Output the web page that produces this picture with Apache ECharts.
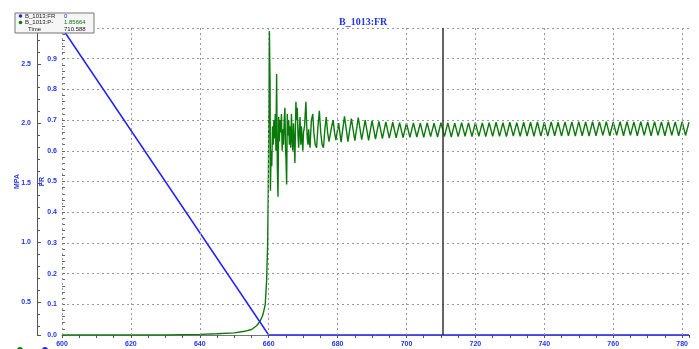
<!DOCTYPE html>
<html>
<head>
<meta charset="utf-8">
<script src="https://cdn.jsdelivr.net/npm/echarts@6/dist/echarts.min.js"></script>
<style>
  html, body { margin: 0; padding: 0; background: #fff; }
  #chart { width: 699px; height: 349px; }
</style>
</head>
<body>
<div id="chart"></div>
<script>
// blue trace (B_1013:FR), time / value
var blueT = [600, 660, 782];
var blueV = [1.0, 0.0, 0.0];

// green trace (B_1013:P-), time / value
var greenT = [
  600, 630, 640, 645, 650, 653, 655, 656.5, 657.5, 658.3, 659, 659.4, 659.7, 659.9, 660.1, 660.2,
  660.4, 660.5, 660.7, 660.9, 661.1, 661.3, 661.5, 661.7, 661.9, 662.1, 662.3, 662.5, 662.7, 662.9,
  663.1, 663.3, 663.5, 663.7, 663.9, 664.1, 664.3, 664.5, 664.7, 664.9, 665.0, 665.2, 665.4, 665.6,
  665.8, 666.0, 666.2, 666.4, 666.6, 666.8, 667.0, 667.2, 667.4, 667.6, 667.9, 668.1, 668.3, 668.5,
  668.7, 668.9, 669.1, 669.3, 669.5, 669.7, 669.9, 670.1, 670.4, 670.8, 671.0, 671.2, 671.4, 671.6,
  671.8, 672.0, 672.2, 672.4, 672.8, 673.1, 673.5, 673.9, 674.3, 674.7, 675.1, 675.5, 675.9, 676.3,
  676.7, 677.1, 677.5, 677.9, 678.3, 678.7, 679.1, 679.5, 679.9, 680.3,
  681, 682, 683, 684, 685, 686, 687, 688, 689, 690, 691, 692, 693, 694, 695, 696, 697, 698, 699, 700,
  701, 702, 703, 704, 705, 706, 707, 708, 709, 710, 711, 712, 713, 714, 715, 716, 717, 718, 719, 720,
  721, 722, 723, 724, 725, 726, 727, 728, 729, 730, 731, 732, 733, 734, 735, 736, 737, 738, 739, 740,
  741, 742, 743, 744, 745, 746, 747, 748, 749, 750, 751, 752, 753, 754, 755, 756, 757, 758, 759, 760,
  761, 762, 763, 764, 765, 766, 767, 768, 769, 770, 771, 772, 773, 774, 775, 776, 777, 778, 779, 780,
  781, 782
];
var greenV = [
  0, 0, 0.002, 0.004, 0.007, 0.012, 0.018, 0.03, 0.045, 0.065, 0.1, 0.18, 0.3, 0.5, 0.8, 0.99,
  0.82, 0.47, 0.60, 0.55, 0.68, 0.62, 0.70, 0.64, 0.72, 0.60, 0.85, 0.55, 0.45, 0.71,
  0.63, 0.70, 0.66, 0.72, 0.60, 0.67, 0.62, 0.70, 0.74, 0.60, 0.58, 0.49, 0.72, 0.65,
  0.70, 0.62, 0.68, 0.61, 0.72, 0.64, 0.60, 0.69, 0.63, 0.56, 0.76, 0.70, 0.74, 0.65,
  0.61, 0.67, 0.71, 0.62, 0.68, 0.64, 0.60, 0.66, 0.68, 0.76, 0.69, 0.64, 0.62, 0.67,
  0.63, 0.61, 0.66, 0.70, 0.72, 0.66, 0.62, 0.61, 0.68, 0.73, 0.66, 0.62, 0.61, 0.67,
  0.71, 0.66, 0.63, 0.625, 0.68, 0.70, 0.66, 0.635, 0.64, 0.69,
  0.628, 0.712, 0.630, 0.705, 0.633, 0.708, 0.636, 0.700, 0.634, 0.698, 0.638, 0.696, 0.640, 0.694, 0.641, 0.693, 0.642, 0.692, 0.643, 0.690,
  0.644, 0.691, 0.645, 0.690, 0.644, 0.691, 0.646, 0.690, 0.645, 0.692, 0.646, 0.691, 0.645, 0.690, 0.646, 0.692, 0.647, 0.691, 0.646, 0.692,
  0.647, 0.691, 0.646, 0.692, 0.647, 0.693, 0.647, 0.692, 0.646, 0.693, 0.648, 0.692, 0.647, 0.693, 0.648, 0.693, 0.647, 0.694, 0.648, 0.693,
  0.648, 0.694, 0.649, 0.693, 0.648, 0.694, 0.649, 0.694, 0.648, 0.695, 0.649, 0.694, 0.648, 0.695, 0.649, 0.694, 0.650, 0.695, 0.649, 0.694,
  0.650, 0.695, 0.649, 0.695, 0.650, 0.694, 0.649, 0.695, 0.650, 0.694, 0.649, 0.695, 0.650, 0.694, 0.649, 0.695, 0.650, 0.694, 0.649, 0.695,
  0.650, 0.693
];

// vertical grid positions (x tick values, left edge included)
var xGridTicks = [600, 620, 640, 660, 680, 700, 720, 740, 760, 780];

// cursor readout
var cursorTime = 710.588;
var legendNames = ["B_1013:FR", "B_1013:P-", "Time"];
var legendValues = ["0", "1.85664", "710.588"];

var BLUE = "#1f35ee";
var GREEN = "#0b7a0b";
var labelFont = { color: BLUE, fontSize: 7, fontWeight: "bold", fontFamily: "Liberation Sans" };
var gridDash = { color: "#999", type: [2, 3], width: 1 };

function pairs(t, v) {
  var out = [];
  for (var i = 0; i < t.length; i++) out.push([t[i], v[i]]);
  return out;
}

var myChart = echarts.init(document.getElementById("chart"));

var option = {
  animation: false,
  backgroundColor: "#fff",
  title: {
    text: "B_1013:FR",
    left: 334,
    top: 12,
    textStyle: { color: BLUE, fontSize: 10, fontWeight: "bold", fontFamily: "Liberation Serif" }
  },
  grid: { left: 62, right: 10, top: 28, bottom: 14 },
  xAxis: {
    type: "value",
    min: 600,
    max: 782,
    interval: 20,
    axisLine: { show: true, onZero: false, lineStyle: { color: "#777", width: 1 } },
    axisTick: { show: true, length: 3, lineStyle: { color: "#555" } },
    minorTick: { show: true, splitNumber: 4, length: 3, lineStyle: { color: "#555" } },
    axisLabel: Object.assign({ margin: 6, showMaxLabel: false }, labelFont),
    splitLine: { show: false }
  },
  yAxis: [
    {
      type: "value",
      position: "left",
      min: 0,
      max: 1,
      interval: 0.1,
      name: "FR",
      nameLocation: "middle",
      nameGap: 16,
      nameMoveOverlap: false,
      nameTextStyle: labelFont,
      axisLine: { show: false, onZero: false },
      axisTick: { show: true, inside: true, length: 3, lineStyle: { color: "#666" } },
      minorTick: { show: true, splitNumber: 5, length: 3, lineStyle: { color: "#666" } },
      axisLabel: Object.assign({
        margin: 5,
        showMaxLabel: false,
        formatter: function (val) { return val.toFixed(1); }
      }, labelFont),
      splitLine: { show: true, lineStyle: gridDash }
    },
    {
      type: "value",
      position: "left",
      offset: 25,
      min: 0.224,
      max: 2.8,
      splitNumber: 5,
      name: "MPA",
      nameLocation: "middle",
      nameGap: 16,
      nameMoveOverlap: false,
      nameTextStyle: labelFont,
      axisLine: { show: true, onZero: false, lineStyle: { color: "#555", width: 1 } },
      axisTick: { show: true, inside: true, length: 4, lineStyle: { color: "#555" } },
      minorTick: { show: true, splitNumber: 5, length: 3, lineStyle: { color: "#555" } },
      axisLabel: Object.assign({
        margin: 6,
        showMinLabel: false,
        showMaxLabel: false,
        formatter: function (val) { return val.toFixed(1); }
      }, labelFont),
      splitLine: { show: false }
    }
  ],
  series: [
    {
      // vertical dotted grid
      type: "line",
      data: [],
      silent: true,
      markLine: {
        silent: true,
        symbol: "none",
        label: { show: false },
        lineStyle: gridDash,
        data: xGridTicks.map(function (t) { return { xAxis: t }; })
      },
      z: 1
    },
    {
      name: "B_1013:P-",
      type: "line",
      yAxisIndex: 0,
      showSymbol: false,
      symbol: "none",
      data: pairs(greenT, greenV),
      lineStyle: { color: GREEN, width: 1.4 },
      z: 2
    },
    {
      name: "B_1013:FR",
      type: "line",
      yAxisIndex: 0,
      showSymbol: false,
      symbol: "none",
      data: pairs(blueT, blueV),
      lineStyle: { color: "#2323ff", width: 1.5 },
      z: 3,
      markLine: {
        silent: true,
        symbol: "none",
        label: { show: false },
        lineStyle: { color: "#333", width: 1.5, type: "solid" },
        data: [{ xAxis: cursorTime }]
      }
    }
  ],
  graphic: [
    {
      type: "rect",
      shape: { x: 15, y: 13, width: 79, height: 20 },
      style: { fill: "#f6f6f6", stroke: "#777", lineWidth: 1 },
      z: 10
    },
    { type: "circle", shape: { cx: 20.5, cy: 16, r: 1.8 }, style: { fill: "#2323ff" }, z: 11 },
    { type: "circle", shape: { cx: 20.5, cy: 22.5, r: 1.8 }, style: { fill: GREEN }, z: 11 },
    { type: "text", x: 25, y: 16, style: { text: legendNames[0], fill: "#222", font: "6px Liberation Sans", verticalAlign: "middle" }, z: 11 },
    { type: "text", x: 25, y: 22.5, style: { text: legendNames[1], fill: "#222", font: "6px Liberation Sans", verticalAlign: "middle" }, z: 11 },
    { type: "text", x: 28, y: 29, style: { text: legendNames[2], fill: "#222", font: "6px Liberation Sans", verticalAlign: "middle" }, z: 11 },
    { type: "text", x: 64, y: 16, style: { text: legendValues[0], fill: "#2323ff", font: "6px Liberation Sans", verticalAlign: "middle" }, z: 11 },
    { type: "text", x: 64, y: 22.5, style: { text: legendValues[1], fill: GREEN, font: "6px Liberation Sans", verticalAlign: "middle" }, z: 11 },
    { type: "text", x: 64, y: 29, style: { text: legendValues[2], fill: "#222", font: "6px Liberation Sans", verticalAlign: "middle" }, z: 11 },
    { type: "circle", shape: { cx: 20, cy: 350, r: 3 }, style: { fill: GREEN } },
    { type: "circle", shape: { cx: 45, cy: 350, r: 3 }, style: { fill: "#2323ff" } }
  ]
};

myChart.setOption(option);
</script>
</body>
</html>
